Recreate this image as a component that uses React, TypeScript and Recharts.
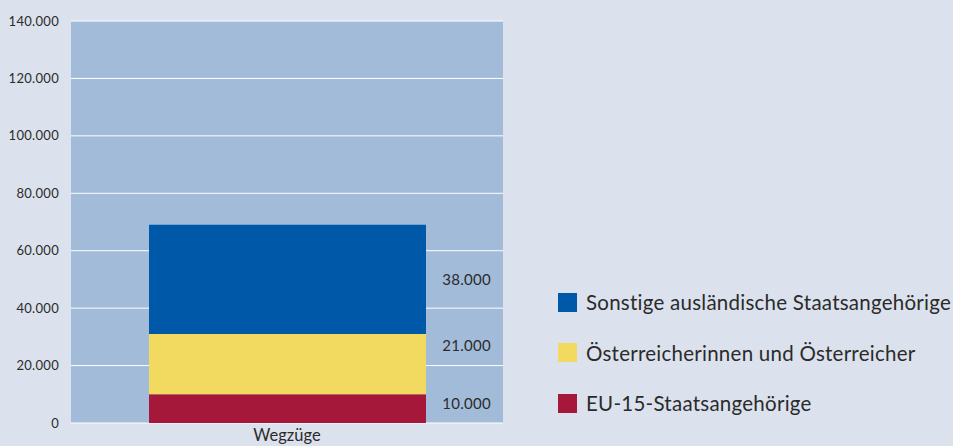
import { BarChart, Bar, XAxis, YAxis, CartesianGrid, LabelList } from 'recharts';

// ── Data ──────────────────────────────────────────────────────────────────────

const categories = ['Wegzüge'];
const eu15 = [10000];
const oesterreicher = [21000];
const sonstige = [38000];
const yTicks = [0, 20000, 40000, 60000, 80000, 100000, 120000, 140000];

const data = categories.map((name, i) => ({
  name,
  eu15: eu15[i],
  oesterreicher: oesterreicher[i],
  sonstige: sonstige[i],
}));

// legend order top → bottom
const SERIES = [
  { key: 'sonstige', label: 'Sonstige ausländische Staatsangehörige', colour: '#0059a8', dy: 0 },
  { key: 'oesterreicher', label: 'Österreicherinnen und Österreicher', colour: '#f2d960', dy: -19 },
  { key: 'eu15', label: 'EU-15-Staatsangehörige', colour: '#a6183a', dy: -6 },
];

const FONT = 'Lato, "Open Sans", sans-serif';
const TEXT = '#2b2b2b';

const fmt = (v: number) => v.toLocaleString('de-DE');

function makeLabel(dy: number) {
  return function SideLabel(props: any) {
    const { x, y, width, height, value } = props;
    return (
      <text
        x={Number(x) + Number(width) + 65}
        y={Number(y) + Number(height) / 2 + dy}
        textAnchor="end"
        dominantBaseline="central"
        style={{ fontFamily: FONT, fontSize: 15, fill: TEXT, letterSpacing: 0.3 }}
      >
        {fmt(Number(value))}
      </text>
    );
  };
}

export default function App() {
  const stackOrder = ['eu15', 'oesterreicher', 'sonstige'];
  return (
    <div style={{
      position: 'fixed', left: 0, top: 0, width: 953, height: 446,
      background: '#dbe2ed', overflow: 'hidden',
    }}>
      <BarChart
        width={953}
        height={446}
        data={data}
        margin={{ top: 21, right: 450, bottom: 0, left: 0 }}
      >
        <CartesianGrid fill="#a2bbd9" stroke="#ffffff" strokeWidth={1} vertical={false} />
        <XAxis
          dataKey="name"
          axisLine={false}
          tickLine={false}
          height={23}
          tickSize={0}
          tickMargin={6}
          tick={{ fontFamily: FONT, fontSize: 16.5, fill: TEXT }}
        />
        <YAxis
          type="number"
          domain={[0, 140000]}
          ticks={yTicks}
          width={71}
          axisLine={false}
          tickLine={false}
          tickSize={0}
          tickMargin={12}
          tickFormatter={fmt}
          tick={{ fontFamily: FONT, fontSize: 13, fill: TEXT, letterSpacing: 0.3 }}
        />
        {stackOrder.map((k) => {
          const s = SERIES.find((x) => x.key === k)!;
          return (
            <Bar key={k} dataKey={k} stackId="a" fill={s.colour} barSize={277} isAnimationActive={false}>
              <LabelList dataKey={k} content={makeLabel(s.dy)} />
            </Bar>
          );
        })}
      </BarChart>

      <div style={{ position: 'absolute', left: 558, top: 277, fontFamily: FONT }}>
        {SERIES.map((s) => (
          <div key={s.key} style={{ display: 'flex', alignItems: 'center', height: 50.5 }}>
            <span style={{ width: 19, height: 19, background: s.colour, display: 'inline-block', marginRight: 9, flexShrink: 0 }} />
            <span style={{ fontSize: 20.5, letterSpacing: 0.25, color: TEXT, whiteSpace: 'nowrap' }}>{s.label}</span>
          </div>
        ))}
      </div>
    </div>
  );
}
